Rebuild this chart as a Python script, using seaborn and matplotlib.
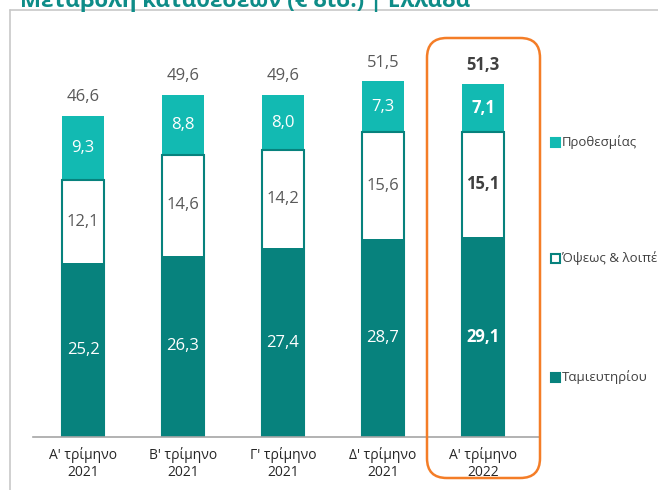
import matplotlib
matplotlib.use("Agg")
import matplotlib.pyplot as plt
import seaborn as sns
import pandas as pd
import numpy as np
from matplotlib.patches import FancyBboxPatch, Rectangle
from matplotlib.lines import Line2D

categories = ["Α' τρίμηνο\n2021", "Β' τρίμηνο\n2021", "Γ' τρίμηνο\n2021", "Δ' τρίμηνο\n2021", "Α' τρίμηνο\n2022"]
savings = [25.2, 26.3, 27.4, 28.7, 29.1]
sight = [12.1, 14.6, 14.2, 15.6, 15.1]
term = [9.3, 8.8, 8.0, 7.3, 7.1]
totals = [46.6, 49.6, 49.6, 51.5, 51.3]
series_names = ["Προθεσμίας", "Όψεως & λοιπές", "Ταμιευτηρίου"]
title = "Μεταβολή καταθέσεων (€ δισ.) | Ελλάδα"

DARK = "#07827D"
LIGHT = "#12BAB2"
GRAY = "#595959"

sns.set_theme(style="white")
plt.rcParams["font.family"] = ["Open Sans", "DejaVu Sans"]

W, H = 658, 490
fig = plt.figure(figsize=(W / 100, H / 100), dpi=100)
ax = fig.add_axes([33 / W, 53 / H, 507 / W, 427 / H])

df = pd.DataFrame({
    "cat": categories,
    "sav": savings,
    "mid": np.array(savings) + np.array(sight),
    "top": np.array(savings) + np.array(sight) + np.array(term),
})

sns.barplot(data=df, x="cat", y="top", color=LIGHT, width=0.42, saturation=1,
            linewidth=0, ax=ax)
sns.barplot(data=df, x="cat", y="mid", color="white", width=0.42, saturation=1,
            edgecolor=DARK, linewidth=1.5, ax=ax)
sns.barplot(data=df, x="cat", y="sav", color=DARK, width=0.42, saturation=1,
            linewidth=0, ax=ax)

ax.set_xlim(-0.5, 4.57)
ax.set_ylim(0, 427 / 6.89)
ax.set_xlabel("")
ax.set_ylabel("")
ax.set_yticks([])
for s in ["top", "right", "left"]:
    ax.spines[s].set_visible(False)
ax.spines["bottom"].set_color("#A6A6A6")
ax.spines["bottom"].set_linewidth(1.2)
ax.tick_params(axis="x", length=0, pad=7, labelsize=10, labelcolor="#262626")

def fmt(v):
    return f"{v:.1f}".replace(".", ",")

for i in range(len(categories)):
    bold = (i == len(categories) - 1)
    fw = "bold" if bold else "normal"
    s, m, t = savings[i], sight[i], term[i]
    ax.text(i, s / 2, fmt(s), ha="center", va="center", color="white",
            fontsize=12, fontweight=fw)
    ax.text(i, s + m / 2, fmt(m), ha="center", va="center",
            color="#404040" if bold else GRAY, fontsize=12, fontweight=fw)
    ax.text(i, s + m + t / 2, fmt(t), ha="center", va="center", color="white",
            fontsize=12, fontweight=fw)
    ax.text(i, totals[i] + 2.75, fmt(totals[i]), ha="center", va="center",
            color="#404040" if bold else GRAY, fontsize=12, fontweight=fw)

# frame
fig.add_artist(Line2D([10 / W, 1], [1 - 10 / H, 1 - 10 / H], transform=fig.transFigure,
                      color="#C8C8C8", lw=1.2))
fig.add_artist(Line2D([10 / W, 10 / W], [0, 1 - 10 / H], transform=fig.transFigure,
                      color="#C8C8C8", lw=1.2))

# title (cut off at top, as in the reference)
fig.text(20 / W, 1 - 7 / H, title, ha="left", va="baseline", color="#0E8C88",
         fontsize=16, fontweight="bold")

# highlight box
box = FancyBboxPatch((427 / W, 12 / H), 113 / W, 440 / H,
                     boxstyle="round,pad=0,rounding_size=0.03",
                     transform=fig.transFigure, fill=False, edgecolor="#F47D27",
                     lw=1.8, mutation_aspect=W / H)
fig.add_artist(box)

# legend
leg_y = [142, 258, 377]
faces = [LIGHT, "white", DARK]
for name, yy, fc in zip(series_names, leg_y, faces):
    fig.add_artist(Rectangle((551 / W, (H - yy - 4.5) / H), 9 / W, 9 / H,
                             transform=fig.transFigure, facecolor=fc,
                             edgecolor=DARK if fc == "white" else fc, lw=1.5))
    fig.text(562 / W, (H - yy) / H, name, ha="left", va="center",
             color="#404040", fontsize=9.5)

fig.savefig("out.png", dpi=100)
